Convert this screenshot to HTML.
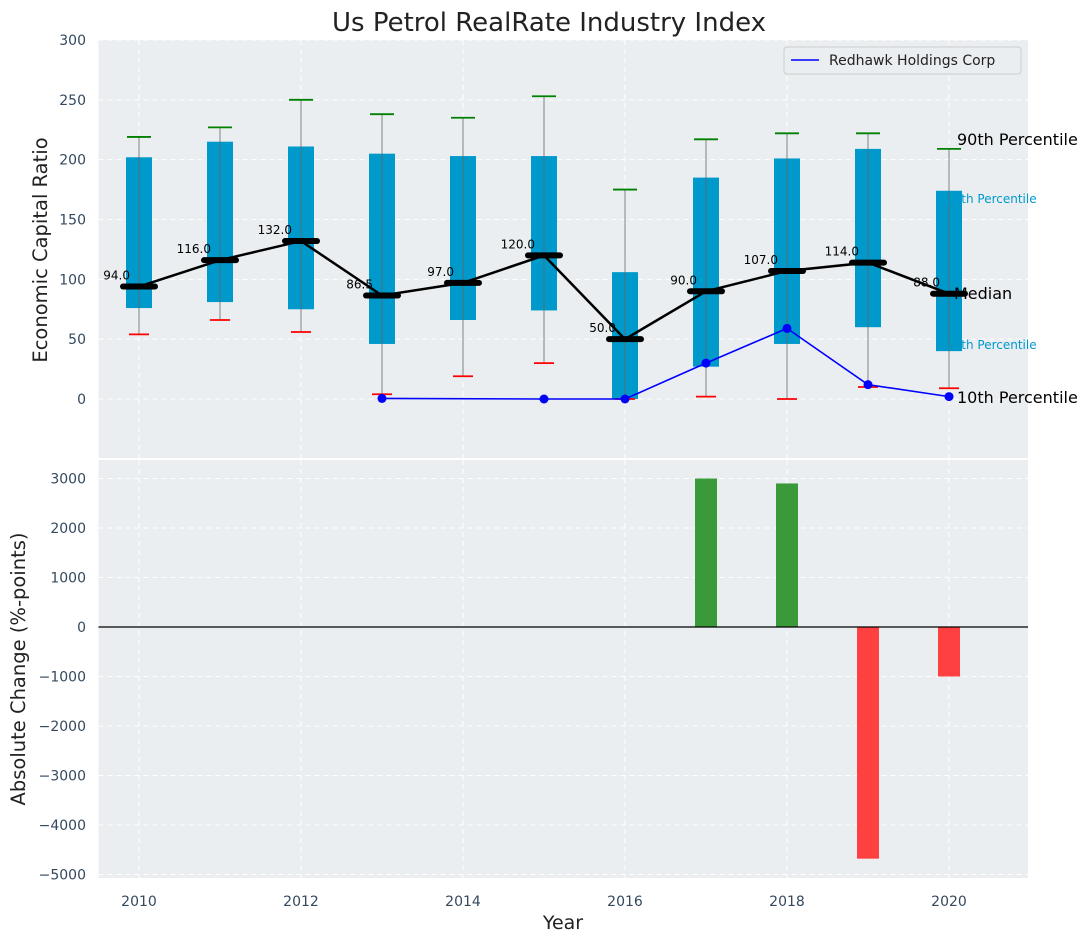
<!DOCTYPE html>
<html><head><meta charset="utf-8"><style>
body{margin:0;background:#fff;}
svg{display:block;font-family:"DejaVu Sans","Liberation Sans",sans-serif;}
</style></head><body>
<svg id="chart" width="1092" height="942" xmlns="http://www.w3.org/2000/svg"></svg>
<script>
const years=[2010,2011,2012,2013,2014,2015,2016,2017,2018,2019,2020];
const p10=[54,66,56,4,19,30,0,2,0,10,9];
const p25=[76,81,75,46,66,74,0,27,46,60,40];
const med=[94,116,132,86.5,97,120,50,90,107,114,88];
const p75=[202,215,211,205,203,203,106,185,201,209,174];
const p90=[219,227,250,238,235,253,175,217,222,222,209];
const rhYears=[2013,2015,2016,2017,2018,2019,2020];
const rhVals=[0.5,0,0,30,59,12,2];
const chgYears=[2017,2018,2019,2020];
const chgVals=[3000,2900,-4680,-1000];
const topTicks=[0,50,100,150,200,250,300];
const botTicks=[-5000,-4000,-3000,-2000,-1000,0,1000,2000,3000];
const xTicks=[2010,2012,2014,2016,2018,2020];

const svg=document.getElementById('chart');
const NS='http://www.w3.org/2000/svg';
function mk(tag,attrs,parent,text){const e=document.createElementNS(NS,tag);for(const k in attrs)e.setAttribute(k,attrs[k]);if(text!==undefined)e.textContent=text;(parent||svg).appendChild(e);return e;}
const X0=98.5,X1=1028;
const x=v=>139+(v-2010)*81;
const yT=v=>399-v*1.1967;
const yB=v=>627-v*0.0495;
const T0=40,T1=458,B0=460,B1=878;

let e=mk('rect',{x:X0,y:T0,width:X1-X0,height:T1-T0,fill:'#eaeef0'});

e=mk('rect',{x:X0,y:B0,width:X1-X0,height:B1-B0,fill:'#eaeef0'});


xTicks.forEach(t=>{
  mk('line',{x1:x(t),x2:x(t),y1:T0,y2:T1,stroke:'#fff','stroke-dasharray':'5,4','stroke-width':1});
  mk('line',{x1:x(t),x2:x(t),y1:B0,y2:B1,stroke:'#fff','stroke-dasharray':'5,4','stroke-width':1});
  e=mk('text',{x:x(t),y:906,'text-anchor':'middle','font-size':14,fill:'#34495e'},null,t);
  
});
topTicks.forEach(t=>{
  mk('line',{x1:X0,x2:X1,y1:yT(t),y2:yT(t),stroke:'#fff','stroke-dasharray':'5,4'});
  e=mk('text',{x:86,y:yT(t)+5,'text-anchor':'end','font-size':14,fill:'#34495e'},null,t);
  
});
botTicks.forEach(t=>{
  mk('line',{x1:X0,x2:X1,y1:yB(t),y2:yB(t),stroke:'#fff','stroke-dasharray':'5,4'});
  e=mk('text',{x:86,y:yB(t)+5,'text-anchor':'end','font-size':14,fill:'#34495e'},null,String(t).replace('-','\u2212'));
  
});

years.forEach((yr,i)=>{
  const cx=x(yr);
  e=mk('rect',{x:cx-13,y:yT(p75[i]),width:26,height:yT(p25[i])-yT(p75[i]),fill:'#0099cc'});
  
  e=mk('line',{x1:cx,x2:cx,y1:yT(p90[i]),y2:yT(p10[i]),stroke:'#666','stroke-width':1,opacity:0.8});
  
  e=mk('line',{x1:cx-12,x2:cx+12,y1:yT(p90[i]),y2:yT(p90[i]),stroke:'green','stroke-width':1.8});
  
  e=mk('line',{x1:cx-10,x2:cx+10,y1:yT(p10[i]),y2:yT(p10[i]),stroke:'red','stroke-width':1.8});
  
});
[['75th Percentile',p75[10]-7],['25th Percentile',p25[10]+5]].forEach(([s,v])=>{
  e=mk('text',{x:x(2020)-3,y:yT(v)+4,'font-size':12,fill:'#0099cc'},null,s);
  
});
e=mk('polyline',{points:years.map((yr,i)=>x(yr)+','+yT(med[i])).join(' '),fill:'none',stroke:'#000','stroke-width':2.5});

years.forEach((yr,i)=>{
  const cx=x(yr);
  e=mk('line',{x1:cx-16,x2:cx+16,y1:yT(med[i]),y2:yT(med[i]),stroke:'#000','stroke-width':6,'stroke-linecap':'round'});
  
  e=mk('text',{x:cx-9,y:yT(med[i])-7,'text-anchor':'end','font-size':12,fill:'#000'},null,med[i].toFixed(1));
  
});
e=mk('polyline',{points:rhYears.map((yr,i)=>x(yr)+','+yT(rhVals[i])).join(' '),fill:'none',stroke:'blue','stroke-width':1.6});

rhYears.forEach((yr,i)=>{
  e=mk('circle',{cx:x(yr),cy:yT(rhVals[i]),r:4.5,fill:'blue'});
  
});
[['90th Percentile',x(2020)+8,139],['Median',x(2020)+5,293],['10th Percentile',x(2020)+8,397]].forEach(([s,xx,yy])=>{
  e=mk('text',{x:xx,y:yy+6,'font-size':16,fill:'#000'},null,s);
  
});

e=mk('g',{});

mk('rect',{x:784,y:47,width:237,height:27,rx:3,fill:'#eaeef0',stroke:'#ccc'},e);
mk('line',{x1:791,x2:819,y1:60,y2:60,stroke:'blue','stroke-width':1.6},e);
mk('text',{x:829,y:65,'font-size':14,fill:'#222'},e,'Redhawk Holdings Corp');

chgYears.forEach((yr,i)=>{
  const v=chgVals[i];
  e=mk('rect',{x:x(yr)-11,y:Math.min(yB(v),yB(0)),width:22,height:Math.abs(yB(v)-yB(0)),fill:v>=0?'#3a9a3a':'#ff4040'});
  
});
e=mk('line',{x1:X0,x2:X1,y1:yB(0),y2:yB(0),stroke:'#000','stroke-width':1.2});


e=mk('text',{x:549,y:31,'text-anchor':'middle','font-size':26,fill:'#222'},null,'Us Petrol RealRate Industry Index');

e=mk('text',{x:563,y:929,'text-anchor':'middle','font-size':19,fill:'#222'},null,'Year');

e=mk('text',{x:47,y:250,'text-anchor':'middle','font-size':19.5,fill:'#222',transform:'rotate(-90 47 250)'},null,'Economic Capital Ratio');

e=mk('text',{x:25,y:669,'text-anchor':'middle','font-size':19.5,fill:'#222',transform:'rotate(-90 25 669)'},null,'Absolute Change (%-points)');

</script>
</body></html>
